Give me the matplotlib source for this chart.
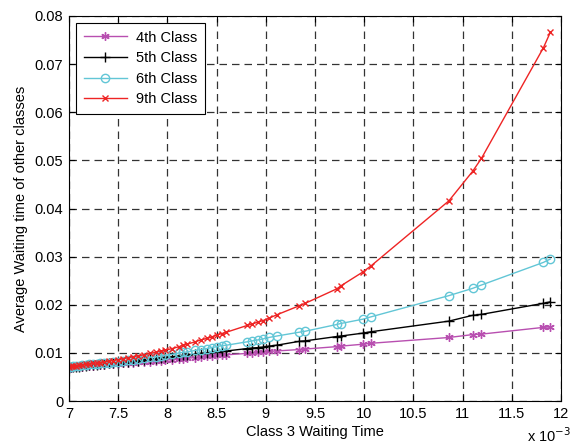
import numpy as np
import matplotlib
matplotlib.use("Agg")
import matplotlib.pyplot as plt

# class 3 waiting time (x 10^-3)
x = [7.00, 7.02, 7.04, 7.07, 7.10, 7.13, 7.17, 7.20, 7.24, 7.28, 7.32, 7.36,
     7.41, 7.45, 7.50, 7.55, 7.60, 7.65, 7.70, 7.76, 7.82, 7.88, 7.93, 7.98,
     8.05, 8.12, 8.16, 8.20, 8.28, 8.34, 8.40, 8.45, 8.50, 8.55, 8.60, 8.81,
     8.86, 8.92, 8.97, 9.03, 9.11, 9.34, 9.40, 9.72, 9.76, 9.985, 10.07, 10.86,
     11.10, 11.19, 11.82, 11.89]

class4 = [0.0069, 0.0069, 0.0070, 0.0070, 0.0071, 0.0071, 0.0072, 0.0073, 0.0073, 0.0074, 0.0075, 0.0075,
          0.0076, 0.0077, 0.0077, 0.0078, 0.0079, 0.0080, 0.0081, 0.0081, 0.0082, 0.0083, 0.0084, 0.0085,
          0.0086, 0.0087, 0.0088, 0.0089, 0.0090, 0.0091, 0.0093, 0.0094, 0.0095, 0.0096, 0.0096, 0.0099,
          0.0100, 0.0101, 0.0102, 0.0103, 0.0104, 0.0107, 0.0108, 0.0113, 0.0114, 0.0118, 0.0120, 0.0132,
          0.0138, 0.0139, 0.0153, 0.0154]

class5 = [0.0069, 0.0070, 0.0070, 0.0071, 0.0071, 0.0072, 0.0073, 0.0074, 0.0075, 0.0075, 0.0076, 0.0077,
          0.0078, 0.0079, 0.0080, 0.0081, 0.0082, 0.0083, 0.0084, 0.0086, 0.0087, 0.0088, 0.0090, 0.0091,
          0.0092, 0.0094, 0.0095, 0.0096, 0.0097, 0.0099, 0.0100, 0.0101, 0.0102, 0.0103, 0.0104, 0.0109,
          0.0110, 0.0111, 0.0112, 0.0114, 0.0116, 0.0124, 0.0125, 0.0134, 0.0135, 0.0141, 0.0144, 0.0166,
          0.0178, 0.0180, 0.0203, 0.0206]

class6 = [0.0071, 0.0071, 0.0072, 0.0072, 0.0073, 0.0074, 0.0075, 0.0076, 0.0077, 0.0077, 0.0078, 0.0079,
          0.0080, 0.0081, 0.0082, 0.0084, 0.0085, 0.0086, 0.0088, 0.0089, 0.0091, 0.0092, 0.0094, 0.0095,
          0.0097, 0.0100, 0.0101, 0.0102, 0.0105, 0.0107, 0.0109, 0.0111, 0.0113, 0.0115, 0.0116, 0.0123,
          0.0125, 0.0127, 0.0129, 0.0132, 0.0135, 0.0143, 0.0145, 0.0159, 0.0161, 0.0170, 0.0175, 0.0219,
          0.0234, 0.0241, 0.0288, 0.0295]

class9 = [0.0071, 0.0072, 0.0072, 0.0073, 0.0074, 0.0075, 0.0076, 0.0077, 0.0078, 0.0079, 0.0080, 0.0081,
          0.0083, 0.0084, 0.0086, 0.0088, 0.0090, 0.0092, 0.0094, 0.0096, 0.0099, 0.0101, 0.0104, 0.0106,
          0.0109, 0.0113, 0.0116, 0.0118, 0.0123, 0.0127, 0.0130, 0.0133, 0.0137, 0.0140, 0.0143, 0.0157,
          0.0160, 0.0164, 0.0167, 0.0172, 0.0179, 0.0198, 0.0203, 0.0233, 0.0239, 0.0268, 0.0281, 0.0416,
          0.0477, 0.0504, 0.0734, 0.0766]

labels = ["4th Class", "5th Class", "6th Class", "9th Class"]
xticks = [7, 7.5, 8, 8.5, 9, 9.5, 10, 10.5, 11, 11.5, 12]
xticklabels = ["7", "7.5", "8", "8.5", "9", "9.5", "10", "10.5", "11", "11.5", "12"]
yticks = [0, 0.01, 0.02, 0.03, 0.04, 0.05, 0.06, 0.07, 0.08]
yticklabels = ["0", "0.01", "0.02", "0.03", "0.04", "0.05", "0.06", "0.07", "0.08"]

plt.rcParams['font.family'] = ['Liberation Sans', 'DejaVu Sans']

fig = plt.figure(figsize=(5.72, 4.44), dpi=100)
ax = fig.add_axes([0.1206, 0.0968, 0.8604, 0.8672])

asterisk = (6, 2, 0)
ax.plot(x, class4, color='#b84fb0', marker=asterisk, markersize=6, lw=1, label=labels[0])
ax.plot(x, class5, color='black', marker='+', markersize=7, lw=1, label=labels[1])
ax.plot(x, class6, color='#62c6d6', marker='o', markersize=6, mfc='none', lw=1, label=labels[2])
ax.plot(x, class9, color='#ee2424', marker='x', markersize=5, lw=1, label=labels[3])

ax.set_xlim(7, 12)
ax.set_ylim(0, 0.08)
ax.set_xticks(xticks)
ax.set_xticklabels(xticklabels)
ax.set_yticks(yticks)
ax.set_yticklabels(yticklabels)
ax.tick_params(direction='in', top=True, right=True, labelsize=10.5, length=4, pad=4)
ax.grid(True, color='#333333', linestyle=(0, (6, 4)), linewidth=0.9)
for s in ax.spines.values():
    s.set_linewidth(0.8)

ax.set_xlabel("Class 3 Waiting Time", fontsize=10.5, labelpad=3)
ax.set_ylabel("Average Waiting time of other classes", fontsize=10.5, labelpad=5)
fig.text(0.922, 0.004, r"x 10$^{-3}$", fontsize=10.5)

leg = ax.legend(loc='upper left', fontsize=10.5, fancybox=False, framealpha=1,
                edgecolor='black', borderaxespad=0.5, handlelength=3.0,
                handletextpad=0.6, labelspacing=0.45, borderpad=0.5)
leg.get_frame().set_linewidth(0.8)

fig.savefig("out.png", dpi=100)
